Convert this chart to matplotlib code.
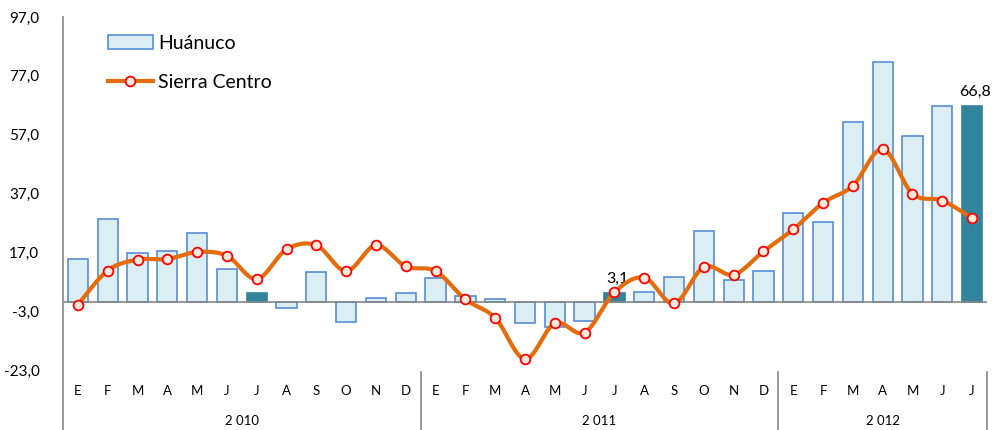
import numpy as np
import matplotlib
matplotlib.use("Agg")
import matplotlib.pyplot as plt
from matplotlib.patches import Patch
from matplotlib.lines import Line2D

plt.rcParams['font.family'] = ['Lato', 'DejaVu Sans']

months = ['E', 'F', 'M', 'A', 'M', 'J', 'J', 'A', 'S', 'O', 'N', 'D',
          'E', 'F', 'M', 'A', 'M', 'J', 'J', 'A', 'S', 'O', 'N', 'D',
          'E', 'F', 'M', 'A', 'M', 'J', 'J']
years = ['2 010', '2 011', '2 012']
year_len = [12, 12, 7]

huanuco = [14.8, 28.4, 16.7, 17.4, 23.6, 11.2, 3.2, -1.9, 10.3, -6.7, 1.6, 3.3,
           8.2, 2.1, 1.2, -6.9, -8.5, -6.3, 3.1, 3.4, 8.7, 24.2, 7.5, 10.7,
           30.5, 27.2, 61.4, 81.7, 56.7, 66.8, 66.8]
sierra = [-0.8, 10.8, 14.5, 14.7, 17.1, 15.8, 7.9, 18.0, 19.4, 10.6, 19.4, 12.2,
          10.6, 1.0, -5.3, -19.3, -7.1, -10.3, 3.4, 8.4, -0.4, 12.0, 9.4, 17.3,
          24.8, 33.8, 39.6, 52.1, 36.9, 34.6, 28.6]
highlight = [6, 18, 30]
labelled = {18: '3,1', 30: '66,8'}
yticks = [97, 77, 57, 37, 17, -3, -23]

LIGHT = '#DAEEF3'
EDGE = '#558ED5'
DARK = '#31849B'
ORANGE = '#E46C0A'
GRAY = '#868686'


def smooth(xs, ys, n=24):
    # Excel-style smoothed line (Bezier through the points, tension 1/6)
    p = np.column_stack([xs, ys]).astype(float)
    p = np.vstack([p[0], p, p[-1]])
    out = []
    for i in range(1, len(p) - 2):
        p0, p1, p2, p3 = p[i - 1], p[i], p[i + 1], p[i + 2]
        c1 = p1 + (p2 - p0) / 6
        c2 = p2 - (p3 - p1) / 6
        t = np.linspace(0, 1, n)[:, None]
        seg = ((1 - t) ** 3) * p1 + 3 * ((1 - t) ** 2) * t * c1 + 3 * (1 - t) * t ** 2 * c2 + t ** 3 * p2
        out.append(seg if i == 1 else seg[1:])
    out = np.vstack(out)
    return out[:, 0], out[:, 1]


fig = plt.figure(figsize=(9.92, 4.30), dpi=100)
ax = fig.add_axes([63 / 992, 0, (987 - 63) / 992, 1 - 17 / 430])

x = np.arange(len(months))
colors = [DARK if i in highlight else LIGHT for i in x]
edges = [DARK if i in highlight else EDGE for i in x]
ax.bar(x, huanuco, width=0.68, color=colors, edgecolor=edges, linewidth=1.2, zorder=2)

ax.axhline(0, color=GRAY, lw=1.2, zorder=3)

sx, sy = smooth(x, sierra)
ax.plot(sx, sy, color=ORANGE, lw=3, zorder=4, solid_capstyle='round')
ax.plot(x, sierra, 'o', ms=7, mfc='#FDEADA', mec='#FF0000', mew=1.3, zorder=5)

for i, txt in labelled.items():
    ax.annotate(txt, (x[i], huanuco[i]), xytext=(2, 5), textcoords='offset points',
                ha='center', va='bottom', fontsize=11.5, annotation_clip=False)

ymin = -3 - (430 - 311) / 2.944
ax.set_ylim(ymin, 97)
ax.set_xlim(-0.5, len(months) - 0.5)
ax.set_yticks(yticks)
ax.set_yticklabels([f'{v:.1f}'.replace('.', ',') for v in yticks], fontsize=11)
ax.tick_params(axis='y', length=0, pad=17)
ax.set_xticks([])
for s in ['top', 'right', 'bottom']:
    ax.spines[s].set_visible(False)
ax.spines['left'].set_color(GRAY)
ax.spines['left'].set_linewidth(1.2)

# category axis: months, years, dividers
for i, m in enumerate(months):
    ax.text(i, -30.2, m, ha='center', va='center', fontsize=9.5)
start = 0
for yr, n in zip(years, year_len):
    ax.text(start + (n - 1) / 2, -40.4, yr, ha='center', va='center', fontsize=9.5)
    start += n
    ax.plot([start - 0.5, start - 0.5], [-23.8, ymin], color=GRAY, lw=1.2, clip_on=False)

handles = [Patch(facecolor=LIGHT, edgecolor=EDGE, linewidth=1.2, label='Huánuco'),
           Line2D([0], [0], color=ORANGE, lw=3, marker='o', ms=7, mfc='#FDEADA',
                  mec='#FF0000', mew=1.3, label='Sierra Centro')]
leg = ax.legend(handles=handles, loc='upper left', bbox_to_anchor=(100 / 992, 1 - 27 / 430),
                bbox_transform=fig.transFigure, frameon=False, fontsize=14,
                handlelength=2.3, handletextpad=0.3, labelspacing=1.15, borderaxespad=0)

fig.savefig('out.png', dpi=100)
